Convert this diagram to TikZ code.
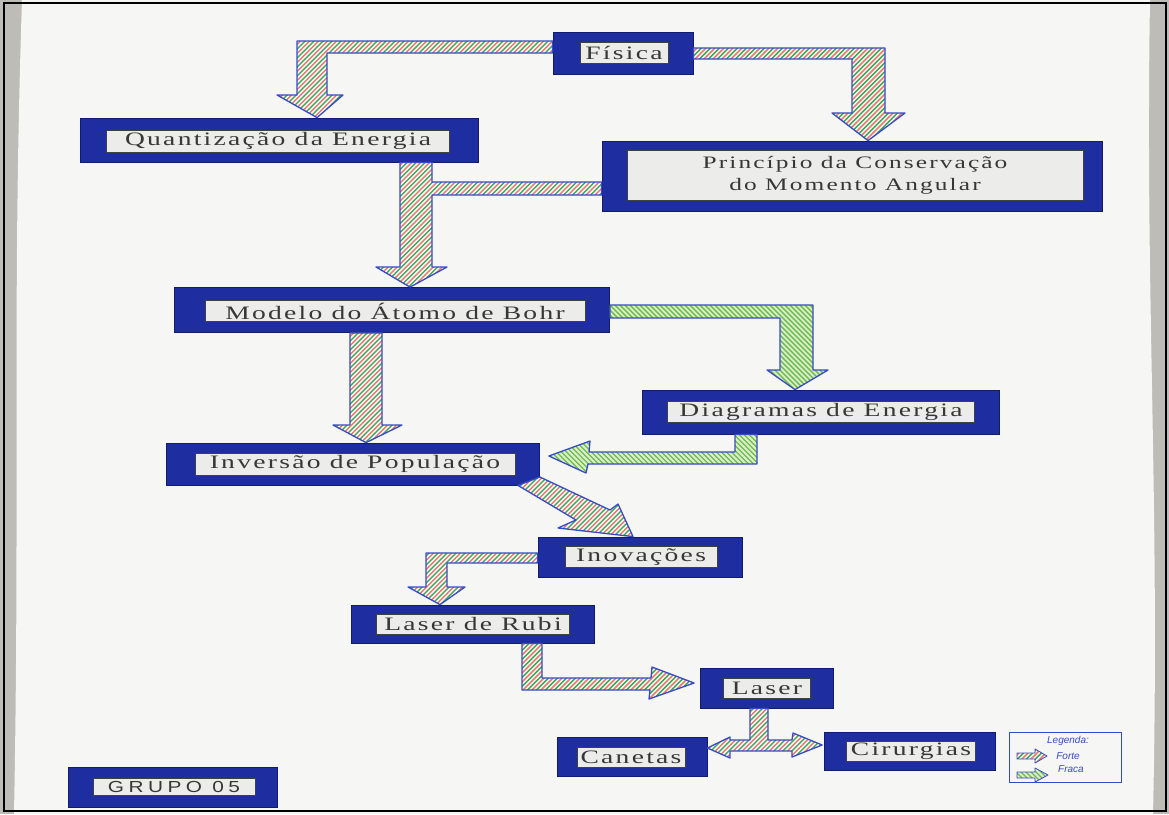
\documentclass[tikz,border=0pt]{standalone}
\usepackage{fontspec}
\usetikzlibrary{calc}
\newfontfamily\serifRotulo[LetterSpace=12,FakeStretch=1.45]{Liberation Serif}
\newfontfamily\semRotulo[LetterSpace=28,FakeStretch=1.3]{Liberation Sans}
\newfontfamily\maoLivre{Liberation Sans}
\definecolor{caixaAzul}{RGB}{30,46,160}
\definecolor{caixaBorda}{RGB}{18,28,110}
\definecolor{rotuloFundo}{RGB}{236,236,234}
\definecolor{rotuloTexto}{RGB}{55,55,55}
\definecolor{setaAzul}{RGB}{55,75,200}
\definecolor{listraVerm}{RGB}{236,120,105}
\definecolor{listraVerde}{RGB}{70,165,90}
\definecolor{fracaFundo}{RGB}{218,240,196}
\definecolor{fracaListra}{RGB}{110,185,85}
\definecolor{cartazFundo}{RGB}{246,246,244}
\definecolor{paredeCinza}{RGB}{190,188,182}

\begin{document}
\begin{tikzpicture}[
  x=1pt,
  y=-1pt,
  caixa/.style={fill=caixaAzul, draw=caixaBorda, line width=0.8pt, inner sep=0pt},
  rotulo/.style={fill=rotuloFundo, draw=black!75, line width=0.6pt, inner sep=0pt,
    text=rotuloTexto, font=\serifRotulo\fontsize{19}{21}\selectfont},
  forte/.style={draw=setaAzul, line width=1.3pt, line join=round, fill=white,
    path picture={
      \foreach \k in {-170,-161,...,310}{
        \draw[listraVerm, line width=1.5pt] ([xshift=\k pt]path picture bounding box.south west) -- ++(300pt,300pt);
        \draw[listraVerde, line width=1.5pt] ([xshift=\k pt+4.5pt]path picture bounding box.south west) -- ++(300pt,300pt);
      }}},
  fraca/.style={draw=setaAzul, line width=1.3pt, line join=round, fill=fracaFundo,
    path picture={
      \foreach \k in {-170,-165,...,310}{
        \draw[fracaListra, line width=1.3pt] ([xshift=\k pt]path picture bounding box.north west) -- ++(300pt,-300pt);
      }}},
  legTexto/.style={font=\maoLivre\itshape\fontsize{10}{11}\selectfont, text=setaAzul, inner sep=0pt}
]
  \useasboundingbox (0,0) rectangle (1169,814);

  % fundo: parede e cartaz
  \fill[paredeCinza] (0,0) rectangle (1169,814);
  \fill[cartazFundo] (22,0) -- (1150,0) .. controls (1145,300) and (1160,500) .. (1153,814)
    -- (14,814) .. controls (20,500) and (12,300) .. (22,0) -- cycle;
  \draw[black, line width=2.5pt] (4,3) rectangle (1166,811);

  % conceitos
  \node[caixa, minimum width=140, minimum height=42] (fisica) at (623,53) {};
  \node[rotulo, minimum width=88, minimum height=21] (fisicaR) at (624,53) {Física};

  \node[caixa, minimum width=398, minimum height=44] (quant) at (279,140) {};
  \node[rotulo, minimum width=343, minimum height=22] (quantR) at (278,141) {Quantização da Energia};

  \node[caixa, minimum width=500, minimum height=70] (princ) at (852,176) {};
  \node[rotulo, minimum width=456, minimum height=50, align=center,
    font=\serifRotulo\fontsize{17.5}{22}\selectfont] (princR) at (855,175)
    {Princípio da Conservação\\do Momento Angular};

  \node[caixa, minimum width=435, minimum height=45] (bohr) at (392,310) {};
  \node[rotulo, minimum width=380, minimum height=21] (bohrR) at (395,311) {Modelo do Átomo de Bohr};

  \node[caixa, minimum width=357, minimum height=44] (diag) at (821,412) {};
  \node[rotulo, minimum width=307, minimum height=21] (diagR) at (821,412) {Diagramas de Energia};

  \node[caixa, minimum width=373, minimum height=42] (inv) at (353,464) {};
  \node[rotulo, minimum width=320, minimum height=22] (invR) at (355,464) {Inversão de População};

  \node[caixa, minimum width=204, minimum height=40] (inov) at (640,557) {};
  \node[rotulo, minimum width=152, minimum height=21] (inovR) at (641,557) {Inovações};

  \node[caixa, minimum width=243, minimum height=38] (rubi) at (473,624) {};
  \node[rotulo, minimum width=193, minimum height=20] (rubiR) at (473,624) {Laser de Rubi};

  \node[caixa, minimum width=133, minimum height=40] (laser) at (767,688) {};
  \node[rotulo, minimum width=87, minimum height=20] (laserR) at (767,688) {Laser};

  \node[caixa, minimum width=150, minimum height=39] (canetas) at (632,757) {};
  \node[rotulo, minimum width=108, minimum height=20] (canetasR) at (631,757) {Canetas};

  \node[caixa, minimum width=171, minimum height=38] (cirurg) at (910,751) {};
  \node[rotulo, minimum width=129, minimum height=20] (cirurgR) at (911,751) {Cirurgias};

  \node[caixa, minimum width=209, minimum height=40] (grupo) at (173,787) {};
  \node[rotulo, minimum width=162, minimum height=17,
    font=\semRotulo\fontsize{16}{18}\selectfont] (grupoR) at (174,787) {GRUPO 05};

  % setas fortes e fracas
  \draw[forte] (fisica.west |- 0,41) -| (297,95) -- (277,95) -- (317,0 |- quant.north)
    -- (343,95) -- (327,95) |- (fisica.west |- 0,53) -- cycle;
  \draw[forte] (fisica.east |- 0,48) -| (885,113) -- (905,113) -- (868,0 |- princ.north)
    -- (832,113) -- (852,113) |- (fisica.east |- 0,59) -- cycle;
  \draw[forte] (400,0 |- quant.south) -- (432,0 |- quant.south) |- (princ.west |- 0,182)
    -- (princ.west |- 0,195) -| (432,267) -- (447,267) -- (410,0 |- bohr.north)
    -- (376,267) -- (400,267) -- cycle;
  \draw[forte] (350,0 |- bohr.south) -- (382,0 |- bohr.south) -- (382,425) -- (402,425)
    -- (366,0 |- inv.north) -- (333,425) -- (350,425) -- cycle;
  \draw[fraca] (bohr.east |- 0,305) -| (813,370) -- (828,370) -- (795,0 |- diag.north)
    -- (767,370) -- (780,370) |- (bohr.east |- 0,318) -- cycle;
  \draw[fraca] (735,0 |- diag.south) -- (757,0 |- diag.south) |- (588,464) -- (586,473)
    -- ($(inv.east |- 0,456)+(9,0)$) -- (590,441) -- (589,452) -- (735,452) -- cycle;
  \draw[forte] (inv.east |- 0,477) -- (610,510) -- (618,504) -- (633,0 |- inov.north)
    -- (558,528) -- (576,520) -- (518,0 |- inv.south) -- cycle;
  \draw[forte] (inov.west |- 0,553) -| (426,587) -- (408,587) -- (440,0 |- rubi.north)
    -- (465,587) -- (447,587) |- (inov.west |- 0,563) -- cycle;
  \draw[forte] (522,0 |- rubi.south) -- (542,0 |- rubi.south) |- (651,678) -- (652,667)
    -- ($(laser.west |- 0,683)+(-6,0)$) -- (649,699) -- (650,690) -- (522,690) -- cycle;
  \draw[forte] (750,0 |- laser.south) -- (768,0 |- laser.south) |- (792,740) -- (793,733)
    -- ($(cirurg.west |- 0,745)+(-2,0)$) -- (792,757) -- (792,751) -- (730,751) -- (730,758)
    -- (canetas.east |- 0,748) -- (730,737) -- (730,740) -- (750,740) -- cycle;

  % legenda
  \node[draw=setaAzul, fill=cartazFundo, line width=1pt, minimum width=112, minimum height=50,
    inner sep=0pt] (legenda) at (1065,757) {};
  \node[legTexto] (legTit) at (1068,741) {Legenda:};
  \node[legTexto] (legForte) at (1068,756) {Forte};
  \node[legTexto] (legFraca) at (1071,769) {Fraca};
  \draw[forte, line width=0.8pt] (1017,753) -- (1035,753) -- (1035,749) -- (1047,756)
    -- (1035,763) -- (1035,759) -- (1017,759) -- cycle;
  \draw[fraca, line width=0.8pt] (1017,772) -- (1035,772) -- (1035,768) -- (1048,775)
    -- (1035,782) -- (1035,778) -- (1017,778) -- cycle;
\end{tikzpicture}
\end{document}
